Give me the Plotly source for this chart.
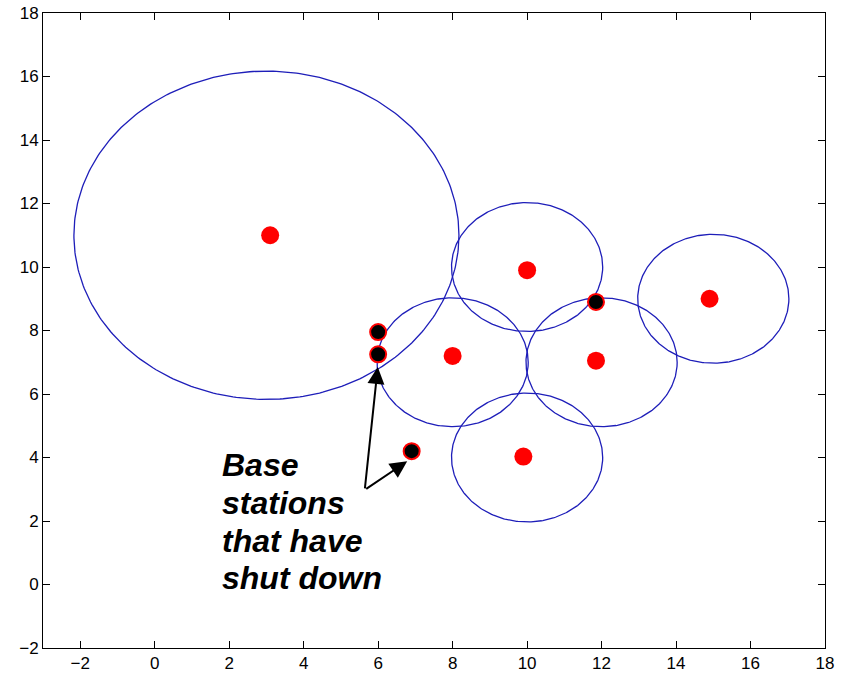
import numpy as np
import plotly.graph_objects as go

# Coverage circles: centers and radii
circle_cx = [3.0, 10.0, 8.0, 12.0, 15.0, 10.0]
circle_cy = [11.0, 10.0, 7.0, 7.0, 9.0, 4.0]
circle_r = [5.17, 2.03, 2.03, 2.03, 2.03, 2.03]

# Active base stations (red)
active_x = [3.1, 10.0, 8.0, 11.85, 14.9, 9.9]
active_y = [11.0, 9.9, 7.2, 7.05, 9.0, 4.03]

# Shut-down base stations (black with red edge)
off_x = [6.0, 6.0, 11.85, 6.9]
off_y = [7.95, 7.25, 8.9, 4.2]

# Annotation arrow geometry (data coords)
arrow_tail = (5.64, 2.98)
arrow_heads = [(5.99, 6.85), (6.78, 3.88)]
label_lines = ["Base", "stations", "that have", "shut down"]
label_y = [3.76, 2.57, 1.37, 0.19]
label_x = 1.76

x_ticks = list(range(-2, 19, 2))
y_ticks = list(range(-2, 19, 2))

fig = go.Figure()
theta = np.linspace(0, 2 * np.pi, 361)
for cx, cy, r in zip(circle_cx, circle_cy, circle_r):
    fig.add_trace(go.Scatter(x=cx + r * np.cos(theta), y=cy + r * np.sin(theta),
                             mode="lines", line=dict(color="rgb(30,30,185)", width=1.3),
                             hoverinfo="skip", showlegend=False))

fig.add_trace(go.Scatter(x=active_x, y=active_y, mode="markers",
                         marker=dict(color="red", size=18, line=dict(width=0)),
                         showlegend=False))
fig.add_trace(go.Scatter(x=off_x, y=off_y, mode="markers",
                         marker=dict(color="black", size=16, line=dict(color="red", width=2)),
                         showlegend=False))

for hx, hy in arrow_heads:
    fig.add_annotation(x=hx, y=hy, ax=arrow_tail[0], ay=arrow_tail[1],
                       xref="x", yref="y", axref="x", ayref="y",
                       text="", showarrow=True, arrowhead=2, arrowsize=1.7,
                       arrowwidth=2, arrowcolor="black")

for line, ly in zip(label_lines, label_y):
    fig.add_annotation(x=label_x, y=ly, xref="x", yref="y", xanchor="left",
                       yanchor="middle", align="left", showarrow=False,
                       text="<b><i>" + line + "</i></b>",
                       font=dict(family="Liberation Sans, Arial", size=32, color="black"))

axis_common = dict(showgrid=False, zeroline=False, showline=True, linecolor="black",
                   linewidth=1, mirror="ticks", ticks="inside", ticklen=7,
                   tickcolor="black", automargin=False,
                   tickfont=dict(family="Liberation Sans, Arial",
                                 size=17, color="black"))
fig.update_xaxes(range=[-3, 18], tickvals=x_ticks, **axis_common)
fig.update_yaxes(range=[-2, 18], tickvals=y_ticks, **axis_common)

fig.update_layout(width=841, height=674, plot_bgcolor="white", paper_bgcolor="white",
                  margin=dict(l=43, r=16, t=13, b=26), showlegend=False)

fig.write_html("out.html", config={"displayModeBar": False},
               post_script="document.body.style.margin='0';document.body.style.overflow='hidden';")
